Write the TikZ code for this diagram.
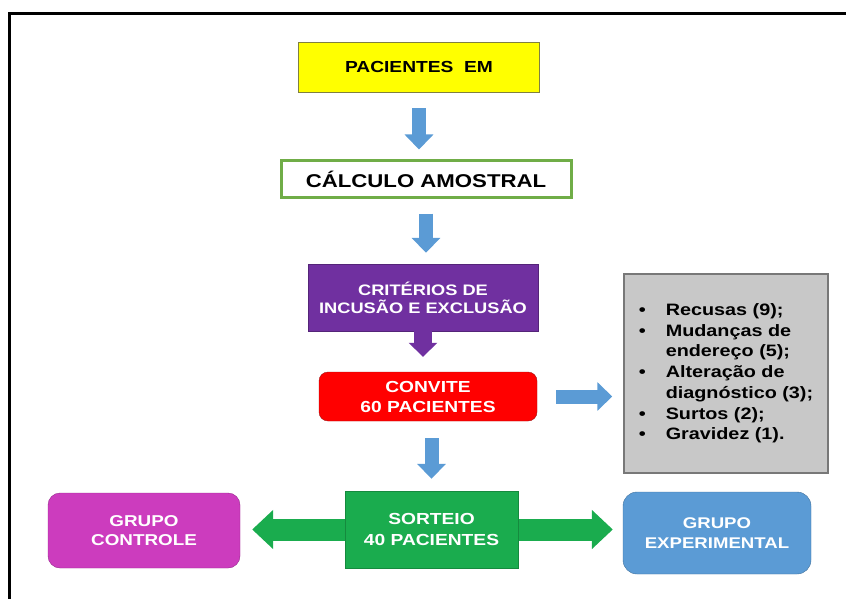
\documentclass[tikz,border=0pt]{standalone}
\usepackage{fontspec}
\setmainfont[FakeStretch=1.2]{Liberation Sans}
\usetikzlibrary{arrows.meta, backgrounds}
\definecolor{pacyellow}{RGB}{255,255,0}
\definecolor{pacborder}{RGB}{128,128,64}
\definecolor{calcgreen}{RGB}{112,173,71}
\definecolor{critpurple}{RGB}{112,48,160}
\definecolor{critborder}{RGB}{84,36,120}
\definecolor{convred}{RGB}{255,0,0}
\definecolor{convborder}{RGB}{160,20,20}
\definecolor{exclgray}{RGB}{200,200,200}
\definecolor{exclborder}{RGB}{120,120,120}
\definecolor{sortgreen}{RGB}{26,172,78}
\definecolor{ctrlmagenta}{RGB}{204,60,190}
\definecolor{ctrlborder}{RGB}{150,40,140}
\definecolor{arrowblue}{RGB}{91,155,213}
\definecolor{expborder}{RGB}{65,113,156}

\begin{document}
\begin{tikzpicture}[x=1pt, y=-1pt,
    every node/.style={align=center, inner sep=0pt},
    downarr/.style={arrowblue, line width=14pt, -{Triangle[width=28pt, length=15pt]}},
    purplearr/.style={critpurple, line width=18pt, -{Triangle[width=28pt, length=14pt]}},
    greenarr/.style={sortgreen, line width=22pt, {Triangle[width=38pt, length=21pt]}-{Triangle[width=38pt, length=21pt]}}]
    \useasboundingbox (0,0) rectangle (846,599);
    \draw[line width=3pt] (9.5,599) -- (9.5,14) -- (846,14);
    \node[draw=pacborder, fill=pacyellow, minimum width=241pt, minimum height=50pt, font=\bfseries\fontsize{16}{20}\selectfont] (pac) at (419,67) {PACIENTES\ \ EM};
    \node[draw=calcgreen, line width=3pt, fill=white, minimum width=290pt, minimum height=36pt, font=\bfseries\fontsize{18.5}{22}\selectfont] (calc) at (426,179) {CÁLCULO AMOSTRAL};
    \node[draw=critborder, fill=critpurple, text=white, minimum width=230pt, minimum height=67pt, font=\bfseries\fontsize{15.2}{18}\selectfont] (crit) at (423,297.5) {CRITÉRIOS DE\\INCUSÃO E EXCLUSÃO};
    \node[draw=convborder, fill=convred, text=white, rounded corners=9pt, minimum width=218pt, minimum height=49pt, font=\bfseries\fontsize{16}{20}\selectfont] (conv) at (428,396.5) {CONVITE\\60 PACIENTES};
    \node[draw=exclborder, fill=exclgray, line width=1.5pt, minimum width=204pt, minimum height=199pt, font=\bfseries\fontsize{16.5}{20.7}\selectfont] (excl) at (726,373.5) {\begin{tabular}{@{}l@{\hspace{20pt}}l@{}}•&Recusas (9);\\•&Mudanças de\\&endereço (5);\\•&Alteração de\\&diagnóstico (3);\\•&Surtos (2);\\•&Gravidez (1).\end{tabular}};
    \node[draw=sortgreen!80!black, fill=sortgreen, text=white, minimum width=173pt, minimum height=77pt, font=\bfseries\fontsize{16}{21}\selectfont] (sort) at (431.5,529.5) {SORTEIO\\40 PACIENTES};
    \node[draw=ctrlborder, fill=ctrlmagenta, text=white, rounded corners=12pt, minimum width=192pt, minimum height=75pt, font=\bfseries\fontsize{15.7}{19}\selectfont] (ctrl) at (144,530.5) {GRUPO\\CONTROLE};
    \node[draw=expborder, fill=arrowblue, text=white, rounded corners=14pt, minimum width=188pt, minimum height=82pt, font=\bfseries\fontsize{15.5}{20}\selectfont] (expm) at (717,533) {GRUPO\\EXPERIMENTAL};
    % block arrows between the boxes
    \draw[downarr, shorten <=16pt, shorten >=10pt] (pac.south) -- (pac.south |- calc.north);
    \draw[downarr, shorten <=15pt, shorten >=11pt] (calc.south) -- (calc.south |- crit.north);
    \draw[purplearr, shorten >=15pt] (crit.south) -- (crit.south |- conv.north);
    \draw[downarr, shorten <=17pt, shorten >=12pt] (sort.north |- conv.south) -- (sort.north);
    \draw[downarr, shorten <=19pt, shorten >=11pt] (conv.east) -- (conv.east -| excl.west);
    \begin{scope}[on background layer]
        \draw[greenarr, shorten <=12pt, shorten >=10pt] (sort.center -| ctrl.east) -- (sort.center -| expm.west);
    \end{scope}
\end{tikzpicture}
\end{document}
